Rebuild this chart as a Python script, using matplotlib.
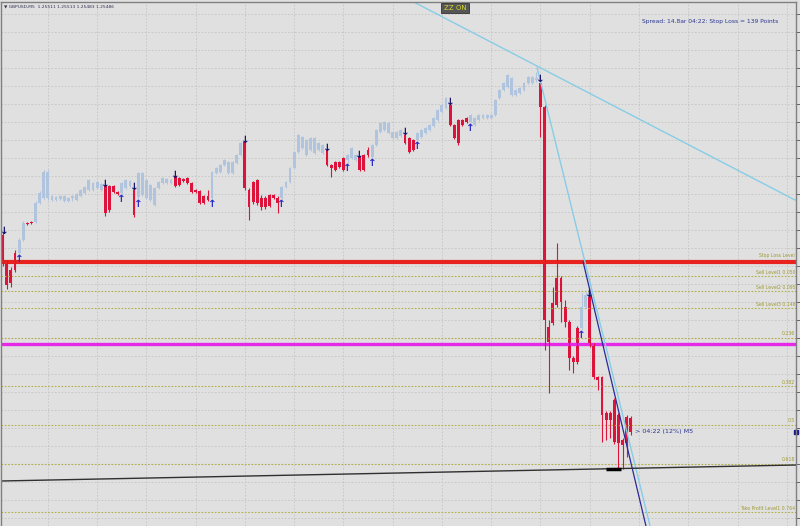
import numpy as np
import matplotlib.pyplot as plt

# prices are kept in points above BASE (1 point = 0.00001)
BASE = 1.25
POINT = 0.00001

opens = [683, 656, 648, 648, 665, 678, 695, 696, 696, 715, 720, 746, 718, 721, 719, 722, 717, 720, 718, 722,
         725, 728, 735, 730, 734, 732, 732, 732, 726, 725, 730, 732, 728, 721, 745, 738, 733, 713, 730, 735,
         735, 735, 741, 740, 739, 740, 735, 728, 727, 722, 722, 720, 745, 746, 753, 756, 745, 755, 763, 776,
         728, 716, 738, 720, 711, 723, 723, 720, 720, 731, 736, 750, 766, 781, 763, 780, 765, 775, 773, 768,
         753, 756, 756, 760, 758, 760, 763, 761, 763, 768, 761, 773, 786, 788, 795, 786, 780, 782, 783, 780,
         778, 778, 781, 785, 788, 792, 798, 806, 810, 813, 793, 798, 798, 800, 796, 793, 798, 800, 803, 800,
         803, 820, 828, 831, 840, 823, 825, 828, 835, 835, 838, 835, 811, 591, 615, 640, 640, 611, 596, 560,
         590, 590, 611, 621, 573, 541, 541, 505, 505, 518, 503, 478, 475, 500]
closes = [656, 633, 635, 665, 678, 695, 694, 695, 715, 725, 746, 720, 722, 718, 722, 717, 720, 722, 724, 728,
          731, 738, 728, 736, 728, 705, 708, 726, 724, 735, 738, 737, 703, 745, 723, 720, 718, 730, 736, 740,
          739, 738, 732, 733, 737, 735, 726, 726, 715, 715, 718, 746, 750, 753, 758, 745, 756, 763, 775, 730,
          711, 736, 715, 711, 720, 712, 720, 715, 731, 736, 750, 766, 783, 770, 778, 768, 780, 768, 765, 753,
          750, 748, 751, 748, 763, 770, 758, 748, 748, 763, 773, 788, 795, 796, 785, 780, 786, 788, 775, 766,
          768, 785, 788, 790, 793, 800, 808, 813, 820, 793, 780, 775, 793, 796, 803, 800, 803, 803, 800, 803,
          818, 828, 835, 843, 823, 828, 830, 835, 841, 841, 840, 811, 598, 576, 595, 613, 616, 596, 560, 556,
          556, 611, 623, 573, 541, 538, 503, 498, 498, 476, 475, 473, 501, 486]
highs = [686, 658, 651, 668, 680, 697, 696, 697, 717, 727, 748, 748, 723, 722, 723, 723, 721, 723, 725, 729,
         732, 739, 736, 737, 735, 733, 733, 733, 727, 736, 739, 738, 730, 746, 746, 739, 734, 731, 737, 741,
         740, 739, 742, 741, 740, 741, 736, 729, 728, 723, 728, 747, 751, 754, 759, 757, 757, 764, 776, 777,
         730, 737, 739, 723, 722, 724, 724, 722, 732, 737, 751, 767, 784, 782, 779, 781, 781, 776, 774, 769,
         754, 757, 757, 761, 764, 771, 764, 762, 764, 771, 774, 789, 796, 797, 796, 787, 787, 789, 785, 781,
         779, 786, 789, 791, 794, 801, 809, 814, 821, 815, 794, 799, 799, 801, 804, 801, 804, 804, 804, 804,
         819, 829, 836, 844, 841, 829, 831, 836, 842, 842, 846, 838, 813, 598, 631, 675, 642, 618, 598, 562,
         592, 625, 626, 623, 575, 542, 542, 507, 507, 520, 505, 480, 503, 502]
lows = [652, 629, 631, 646, 664, 677, 693, 694, 695, 714, 719, 718, 717, 717, 718, 716, 716, 717, 717, 721,
        724, 727, 727, 729, 727, 702, 706, 725, 723, 724, 729, 731, 701, 719, 722, 719, 717, 712, 729, 734,
        734, 734, 731, 732, 736, 734, 725, 725, 714, 714, 717, 719, 744, 745, 752, 744, 744, 754, 762, 728,
        698, 714, 713, 708, 709, 711, 719, 705, 719, 730, 735, 749, 765, 769, 762, 767, 764, 767, 764, 752,
        741, 747, 750, 747, 755, 759, 757, 747, 747, 761, 760, 772, 785, 787, 784, 779, 779, 781, 774, 765,
        767, 777, 780, 784, 787, 791, 797, 805, 809, 792, 779, 773, 792, 795, 795, 792, 797, 799, 799, 799,
        802, 819, 827, 830, 822, 822, 824, 827, 834, 834, 836, 781, 568, 525, 593, 611, 596, 591, 548, 545,
        554, 588, 610, 571, 539, 528, 476, 478, 480, 474, 449, 449, 461, 483]
candle_colors = ("rrrrbbrrbbbbbbbbbbbbbbbbbrrrrbbbrbbbbbbbbbrrrrrrrrrbbbbbbbbrrrrrrrrr"
                 "bbbbbbbbbbbrrrrrbbbrrrbbbbbbbbrrrbbbbbbbbrrrrrbbbbbbbbbbbbbbbbbrrrrrrrrrrbbrrrrrrrrrrr")
down_arrows = [0, 25, 32, 42, 59, 79, 87, 98, 109, 131, 143]
up_arrows = [4, 29, 33, 51, 68, 84, 90, 101, 114, 141]

fib_zero = 1.25658
fib_one = 1.25328
fib_ratios = [0.0, 0.05, 0.095, 0.146, 0.236, 0.382, 0.5, 0.618, 0.764]
fib_labels = ["Stop Loss Level", "Sell Level1 0.050", "Sell Level2 0.095", "Sell Level3 0.146",
              "0.236", "0.382", "0.5", "0.618", "Take Profit Level1 0.764"]
stop_loss_price = 1.25656
entry_price = 1.25574

# trend lines: (candle index, price) pairs
zz_line = [(99.2, 1.25918), (193.0, 1.25718)]
fast_line = [(130.2, 1.25850), (157.7, 1.25392)]
channel_line = [(141.4, 1.25656), (156.7, 1.25392)]
base_line = [(-0.4, 1.25437), (193.2, 1.25453)]
mark_segment = [(147.0, 1.25449), (150.5, 1.25449)]

header = "\u25bc GBPUSD,M5  1.25511 1.25513 1.25483 1.25486"
spread_text = "Spread: 14.8ar 04:22: Stop Loss = 139 Points"
timer_text = "> 04:22 (12%) M5"

o = BASE + np.array(opens) * POINT
c = BASE + np.array(closes) * POINT
h = BASE + np.array(highs) * POINT
l = BASE + np.array(lows) * POINT
idx = np.arange(len(o))
cols = np.where(np.array(list(candle_colors)) == 'r', '#dc143c', '#b0c4de')

fig = plt.figure(figsize=(8, 5.26), dpi=100, facecolor='#e0e0e0')
ax = fig.add_axes([1 / 800, 0, 795 / 800, 524 / 526])
ax.set_facecolor('#e0e0e0')

ax.set_xlim(-0.41, 193.25)
ax.set_ylim(1.25392, 1.25916)

# grid
ax.set_yticks(np.arange(1.25400, 1.25916, 0.00018))
ax.set_xticks(np.arange(11, 193, 12))
ax.grid(True, color='#c4c4c4', linestyle=(0, (2, 2)), linewidth=0.6)
ax.set_axisbelow(True)
ax.yaxis.tick_right()
ax.tick_params(axis='y', direction='out', length=3, width=0.7, colors='#666666', labelright=False)
ax.tick_params(axis='x', length=0, labelbottom=False)
for side in ['left', 'top', 'right']:
    ax.spines[side].set_color('#808080')
    ax.spines[side].set_linewidth(1)
ax.spines['bottom'].set_visible(False)

# fib levels
for r, lab in zip(fib_ratios, fib_labels):
    p = fib_zero + r * (fib_one - fib_zero)
    ax.axhline(p, color='#b4ae4c', linestyle=(0, (1.5, 1.5)), linewidth=0.8)
    ax.text(0.999, p + 0.000015, lab, transform=ax.get_yaxis_transform(), ha='right', va='bottom',
            fontsize=3.3, color='#a09a34')

ax.axhline(stop_loss_price, color='#e8221e', linewidth=3)
ax.axhline(entry_price, color='#e629e6', linewidth=2.4)

# candles
ax.vlines(idx, l, h, colors=cols, linewidth=0.8)
body_lo = np.minimum(o, c)
body_h = np.maximum(np.abs(c - o), 1.2 * POINT)
ax.bar(idx, body_h, bottom=body_lo, width=0.7, color=cols, linewidth=0)

for i in down_arrows:
    ax.text(max(i, 0.3), h[i] + 1 * POINT, "\u2193", ha='center', va='center', fontsize=7.5,
            fontweight='bold', color='#141470', clip_on=False)
for i in up_arrows:
    ax.text(i, l[i] - 5 * POINT, "\u2191", ha='center', va='center', fontsize=7.5,
            fontweight='bold', color='#2828c8')

# trend lines
for pts, col, lw in [(zz_line, '#87cde6', 1.0), (fast_line, '#87cde6', 1.0),
                     (channel_line, '#2a2a9a', 0.9), (base_line, '#303030', 1.0)]:
    ax.plot([pts[0][0], pts[1][0]], [pts[0][1], pts[1][1]], color=col, linewidth=lw)
ax.plot([mark_segment[0][0], mark_segment[1][0]], [mark_segment[0][1], mark_segment[1][1]],
        color='black', linewidth=2.5, solid_capstyle='butt')

# texts
ax.text(idx[-1] + 1.0, c[-1], timer_text, ha='left', va='center', fontsize=4.6, color='#2a3590')
fig.text(4 / 800, 1 - 6 / 526, header, ha='left', va='center', fontsize=3.2, color='#303050')
fig.text(778 / 800, 1 - 22 / 526, spread_text, ha='right', va='center', fontsize=4.3, color='#2a3590')
fig.text(455 / 800, 1 - 8 / 526, "ZZ ON", ha='center', va='center', fontsize=5.0, color='#d8d82a',
         bbox=dict(boxstyle='square,pad=0.35', facecolor='#555555', edgecolor='#333333', linewidth=0.6))

# current price marker on the right scale
ax.plot([1.0], [c[-1]], marker='s', markersize=2.5, color='#1a1a8c', transform=ax.get_yaxis_transform(),
        clip_on=False)

fig.savefig('out.png', dpi=100, facecolor=fig.get_facecolor())
